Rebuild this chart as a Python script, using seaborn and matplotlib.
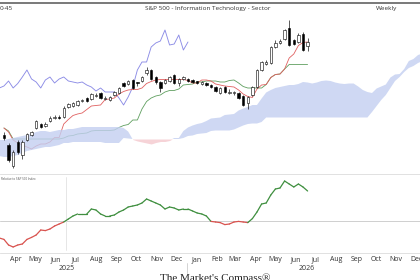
import numpy as np
import pandas as pd
import seaborn as sns
import matplotlib
matplotlib.use('Agg')
import matplotlib.pyplot as plt
import matplotlib.dates as mdates
import matplotlib.transforms as mtransforms
from matplotlib.patches import Rectangle

# weekly bars (Friday), sector index level
opens = [4300, 4100, 3680, 4160, 3900, 4200, 4300, 4440, 4520, 4480,
         4580, 4650, 4670, 4660, 4860, 4880, 4900, 4990, 5040, 5020,
         5090, 5140, 5030, 5000, 5100, 5140, 5340, 5320, 5400, 5350,
         5380, 5540, 5600, 5460, 5360, 5340, 5380, 5500, 5340, 5420,
         5420, 5400, 5370, 5320, 5340, 5300, 5260, 5140, 5260, 5140,
         5130, 5140, 5080, 4940, 5100, 5260, 5600, 5720, 5740, 6060,
         6140, 6220, 6440, 6200, 6160, 6320, 6080]
highs = [4360, 4140, 4000, 4200, 4200, 4340, 4380, 4600, 4540, 4560,
         4680, 4700, 4700, 4880, 4940, 4960, 5000, 5030, 5060, 5140,
         5140, 5160, 5080, 5080, 5180, 5260, 5360, 5400, 5420, 5360,
         5480, 5660, 5620, 5480, 5380, 5420, 5480, 5520, 5440, 5480,
         5440, 5420, 5390, 5380, 5360, 5320, 5280, 5260, 5280, 5220,
         5180, 5160, 5100, 5080, 5280, 5620, 5780, 5800, 6080, 6200,
         6220, 6420, 6600, 6220, 6340, 6360, 6240]
lows = [4200, 3760, 3640, 3920, 3820, 4180, 4280, 4420, 4440, 4460,
        4560, 4620, 4620, 4640, 4840, 4860, 4880, 4970, 4960, 5000,
        5060, 5020, 5000, 4980, 5080, 5120, 5260, 5300, 5220, 5280,
        5360, 5500, 5400, 5320, 5160, 5320, 5360, 5320, 5280, 5400,
        5360, 5340, 5320, 5300, 5280, 5240, 5160, 5120, 5140, 5120,
        5110, 5020, 4880, 4820, 5080, 5240, 5580, 5700, 5720, 6040,
        6120, 6200, 6080, 6100, 6140, 5980, 5980]
closes = [4240, 3800, 3960, 3960, 4160, 4320, 4360, 4580, 4460, 4520,
          4640, 4670, 4650, 4840, 4920, 4940, 4980, 5010, 4980, 5120,
          5110, 5040, 5050, 5060, 5160, 5240, 5280, 5380, 5240, 5330,
          5460, 5600, 5420, 5360, 5240, 5400, 5460, 5340, 5420, 5460,
          5380, 5360, 5340, 5360, 5300, 5260, 5180, 5240, 5160, 5160,
          5160, 5040, 4900, 5060, 5260, 5600, 5760, 5760, 6060, 6140,
          6180, 6400, 6100, 6120, 6300, 6000, 6160]

# conversion / base lines, one value per bar
tenkan = [4440, 4360, 4200, 4140, 4100, 4060, 4020, 4080, 4120, 4120,
          4160, 4250, 4250, 4520, 4610, 4690, 4720, 4740, 4810, 4880,
          4890, 4900, 5010, 5020, 5040, 5120, 5170, 5200, 5210, 5210,
          5240, 5330, 5370, 5400, 5410, 5410, 5410, 5410, 5410, 5410,
          5390, 5340, 5340, 5400, 5400, 5380, 5320, 5300, 5280, 5270,
          5260, 5200, 5120, 5070, 5050, 5220, 5300, 5310, 5450, 5510,
          5520, 5620, 5840, 5920, 6090, 6150, 6160]
kijun = [4440, 4380, 4220, 4220, 4220, 4220, 4220, 4220, 4220, 4220,
         4220, 4220, 4220, 4240, 4280, 4290, 4320, 4330, 4340, 4380,
         4390, 4390, 4390, 4390, 4400, 4450, 4490, 4510, 4600, 4600,
         4820, 4970, 5040, 5080, 5100, 5160, 5190, 5190, 5220, 5300,
         5310, 5320, 5360, 5360, 5380, 5380, 5380, 5360, 5360, 5390,
         5400, 5340, 5270, 5240, 5240, 5240, 5240, 5310, 5450, 5510,
         5520, 5620, 5710, 5710, 5710, 5710, 5710]

# leading spans: from one week before the first bar to 26 weeks past the last
span_a = [4200, 4200, 4220, 4240, 4260, 4280, 4300, 4320, 4360, 4380, 4380,
          4360, 4380, 4400, 4400, 4420, 4420, 4440, 4460, 4460, 4460,
          4460, 4460, 4460, 4460, 4460, 4460, 4440, 4370, 4210, 4180,
          4160, 4140, 4120, 4150, 4170, 4170, 4190, 4240, 4240, 4380,
          4450, 4490, 4520, 4540, 4580, 4630, 4640, 4650, 4700, 4710,
          4720, 4790, 4830, 4860, 4900, 4900, 5030, 5150, 5200, 5240,
          5260, 5280, 5300, 5300, 5320, 5360, 5350, 5330, 5350, 5380,
          5390, 5380, 5350, 5330, 5320, 5330, 5330, 5270, 5200, 5160,
          5140, 5230, 5270, 5310, 5450, 5510, 5520, 5620, 5780, 5820,
          5900, 5930, 5940]
span_b = [3880, 3860, 3860, 3880, 3900, 3940, 3980, 4000, 4020, 4040, 4060,
          4060, 4080, 4100, 4140, 4140, 4160, 4160, 4160, 4160, 4160,
          4160, 4160, 4140, 4140, 4140, 4140, 4240, 4230, 4220, 4220,
          4220, 4220, 4220, 4220, 4220, 4220, 4220, 4220, 4220, 4240,
          4280, 4290, 4320, 4330, 4340, 4380, 4390, 4390, 4390, 4390,
          4410, 4450, 4490, 4520, 4530, 4530, 4560, 4650, 4650, 4650,
          4650, 4650, 4650, 4650, 4650, 4650, 4650, 4650, 4650, 4650,
          4650, 4650, 4650, 4650, 4650, 4650, 4650, 4650, 4650, 4650,
          4760, 4880, 5000, 5100, 5240, 5380, 5460, 5560, 5640, 5680,
          5740, 5780, 5800]

# relative strength vs S&P 500 (%), from one week before the first bar
rel_strength = [-4.25, -4.6, -6.0, -6.5, -6.0, -5.75, -4.6, -4.1, -3.5, -2.25,
                -2.4, -2.0, -1.25, -0.75, -0.25, 0.5, 1.25, 1.75, 1.75, 1.75,
                3.0, 2.75, 1.75, 1.25, 1.25, 1.5, 2.25, 2.75, 3.5, 3.75,
                4.0, 4.5, 5.5, 5.0, 4.5, 4.0, 3.0, 3.5, 3.25, 2.75,
                3.0, 3.0, 2.5, 2.0, 1.75, 1.25, -0.1, -0.25, -0.4, -0.9,
                -0.75, -0.25, -0.1, -0.25, -0.4, 0.6, 2.25, 4.25, 4.5, 6.5,
                8.0, 8.25, 10.0, 9.25, 8.5, 9.25, 8.5, 7.5]

weeks = pd.date_range('2025-03-21', periods=94, freq='W-FRI')
bar_dates = weeks[1:68]

sns.set_style('white')
plt.rcParams['font.family'] = ['Open Sans', 'DejaVu Sans']

fig = plt.figure(figsize=(4.2, 2.8), dpi=100)
ax1 = fig.add_axes([0, 1 - 173 / 280, 1, 170 / 280])
ax2 = fig.add_axes([0, 1 - 253 / 280, 1, 79 / 280], sharex=ax1)

# lagging span: close moved back 26 weeks
lag = pd.DataFrame({'date': bar_dates[25:] - pd.Timedelta(weeks=26), 'close': closes[25:]})
sns.lineplot(data=lag, x='date', y='close', color='#8c8ce6', lw=0.65, ax=ax1, legend=False, zorder=2)

lines = pd.DataFrame({'date': bar_dates, 'tenkan': tenkan, 'kijun': kijun})
sns.lineplot(data=lines, x='date', y='kijun', color='#5f9f5f', lw=0.6, ax=ax1, legend=False, zorder=2)
sns.lineplot(data=lines, x='date', y='tenkan', color='#e06060', lw=0.6, ax=ax1, legend=False, zorder=2)

# cloud sits over the lines, a little see-through
a = np.array(span_a, float)
b = np.array(span_b, float)
ax1.fill_between(weeks, a, b, where=a >= b, interpolate=True, color='#c3cff1', alpha=0.8, lw=0, zorder=2.5)
ax1.fill_between(weeks, a, b, where=a < b, interpolate=True, color='#f4c8ce', alpha=0.8, lw=0, zorder=2.5)

# candles
xs = mdates.date2num(bar_dates)
w = 3.6
for x, o, h, l, c in zip(xs, opens, highs, lows, closes):
    ax1.vlines(x, l, h, color='black', lw=0.45, zorder=3)
    lo, hi = min(o, c), max(o, c)
    ax1.add_patch(Rectangle((x - w / 2, lo), w, max(hi - lo, 15),
                            facecolor='white' if c >= o else 'black',
                            edgecolor='black', lw=0.4, zorder=4))

ax1.set_ylim(3540, 6940)
ax1.set_xlim(pd.Timestamp('2025-03-22'), pd.Timestamp('2026-12-21'))
ax1.set_xlabel('')
ax1.set_ylabel('')
ax1.set_yticks([])
ax1.tick_params(axis='x', length=0, labelbottom=False)
for s in ['left', 'right', 'bottom']:
    ax1.spines[s].set_visible(False)
ax1.spines['top'].set_color('#555555')
ax1.spines['top'].set_linewidth(1.1)

# relative strength panel
rs = np.array(rel_strength)
rs_dates = weeks[0:68]
for k in range(len(rs) - 1):
    col = '#3f8f3f' if (rs[k] + rs[k + 1]) / 2 >= 0 else '#d9534f'
    ax2.plot(rs_dates[k:k + 2], rs[k:k + 2], color=col, lw=0.9, solid_capstyle='round')
ax2.axhline(0, color='#cfcfcf', lw=0.7, zorder=0)
ax2.axvline(pd.Timestamp('2025-07-01'), ymin=0.04, ymax=0.96, color='#e2e2e2', lw=0.6, zorder=0)
ax2.set_ylim(-8.0, 11.75)
ax2.set_yticks([])
for s in ['left', 'right']:
    ax2.spines[s].set_visible(False)
for s in ['top', 'bottom']:
    ax2.spines[s].set_color('#dcdcdc')
    ax2.spines[s].set_linewidth(0.6)
ax2.xaxis.set_major_locator(mdates.MonthLocator(bymonthday=15))
ax2.xaxis.set_major_formatter(mdates.DateFormatter('%b'))
ax2.tick_params(axis='x', length=0, labelsize=5, pad=2.2, colors='#333333')
ax2.text(0.002, 0.96, 'Relative to S&P 500 Index', transform=ax2.transAxes,
         fontsize=2.2, color='#555555', va='top', ha='left')

# year row
tr = mtransforms.blended_transform_factory(ax2.transData, fig.transFigure)
for yr, d in [('2025', '2025-07-01'), ('2026', '2026-07-01')]:
    fig.text(mdates.date2num(pd.Timestamp(d)), 1 - 268 / 280, yr, transform=tr,
             ha='center', va='center', fontsize=5, color='#333333')
fig.add_artist(plt.Line2D([mdates.date2num(pd.Timestamp('2026-01-01'))] * 2,
                          [1 - 263 / 280, 1 - 273 / 280], transform=tr, color='#cccccc', lw=0.6))

fig.text(0.494, 1 - 8.5 / 280, 'S&P 500 - Information Technology - Sector',
         ha='center', va='center', fontsize=4.6, color='#333333')
fig.text(0.0, 1 - 8.5 / 280, '0-45', ha='left', va='center', fontsize=4.6, color='#333333')
fig.text(0.921, 1 - 8.5 / 280, 'Weekly', ha='center', va='center', fontsize=4.6, color='#333333')
fig.text(0.512, 1 - 273 / 280, "The Market's Compass\u00ae", ha='center', va='top',
         fontsize=8, family=['Liberation Serif', 'DejaVu Serif'], color='#222222')

fig.savefig('out.png', dpi=100)
